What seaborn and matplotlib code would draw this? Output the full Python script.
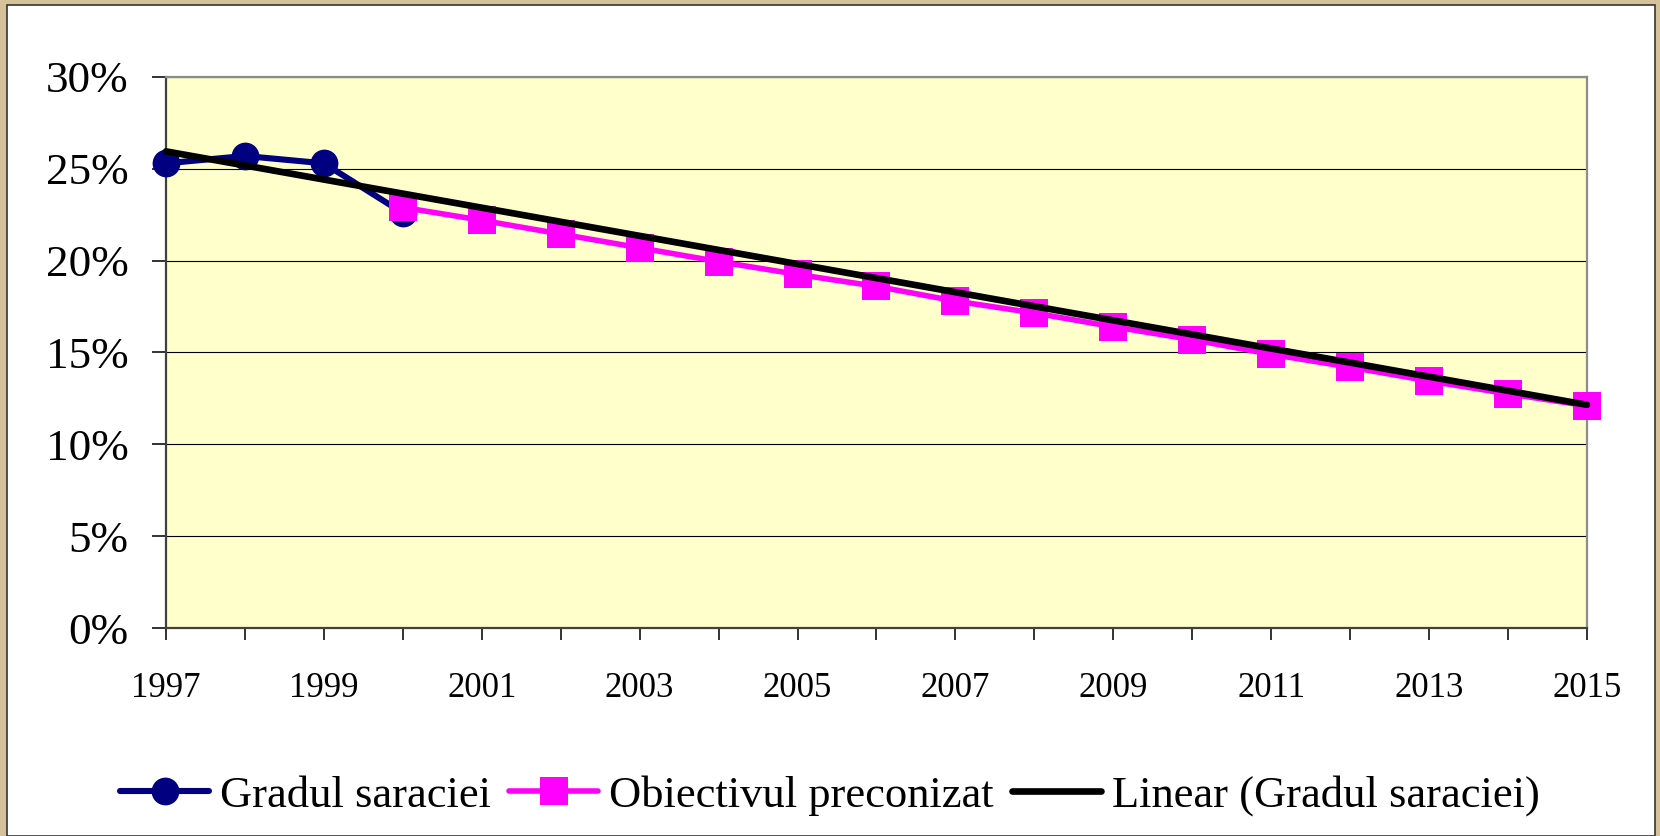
import numpy as np
import matplotlib
matplotlib.use("Agg")
import matplotlib.pyplot as plt
import seaborn as sns
from matplotlib.patches import Rectangle
from matplotlib.ticker import FuncFormatter, MultipleLocator

# Daten
ani_gradul = [1997, 1998, 1999, 2000]
gradul_saraciei = [25.3, 25.7, 25.3, 22.6]

ani_obiectiv = list(range(2000, 2016))
obiectiv_preconizat = [22.9, 22.2, 21.45, 20.7, 19.95, 19.25, 18.6, 17.8,
                       17.15, 16.4, 15.7, 14.9, 14.2, 13.45, 12.75, 12.1]

ani_trend = [1997, 2015]
trend_linear = [25.95, 12.15]

etichete = ["Gradul saraciei", "Obiectivul preconizat", "Linear (Gradul saraciei)"]
ani_etichete = list(range(1997, 2016, 2))

sns.set_style("white")
plt.rcParams['font.family'] = ['Liberation Serif', 'DejaVu Serif']
plt.rcParams['text.color'] = 'black'

fig = plt.figure(figsize=(16.6, 8.36), dpi=100)
fig.patch.set_facecolor('#D6C29A')
# weisser Rahmen innerhalb des Pergament-Randes
fig.patches.append(Rectangle((7 / 1660, 0), 1648 / 1660, 1 - 5 / 836,
                             transform=fig.transFigure, facecolor='white',
                             edgecolor='#333333', linewidth=1.2, zorder=-5))

ax = fig.add_axes([0.1, 0.2488, 0.856, 0.6591])
ax.set_facecolor('#FFFFCC')

sns.lineplot(x=ani_gradul, y=gradul_saraciei, ax=ax, color='#000080',
             linewidth=4.4, marker='o', markersize=20, markeredgewidth=0,
             label=etichete[0], clip_on=False, zorder=3)
sns.lineplot(x=ani_obiectiv, y=obiectiv_preconizat, ax=ax, color='#FF00FF',
             linewidth=4.0, marker='s', markersize=19.5, markeredgewidth=0,
             label=etichete[1], clip_on=False, zorder=4)
sns.lineplot(x=ani_trend, y=trend_linear, ax=ax, color='black',
             linewidth=4.8, label=etichete[2], clip_on=False, zorder=5,
             solid_capstyle='round')

ax.set_xlim(1997, 2015)
ax.set_ylim(0, 30)
ax.yaxis.set_major_locator(MultipleLocator(5))
ax.yaxis.set_major_formatter(FuncFormatter(lambda v, p: f"{v:.0f}%"))
ax.set_xticks(list(range(1997, 2016)))
ax.set_xticklabels([str(a) if a in ani_etichete else "" for a in range(1997, 2016)])

ax.yaxis.grid(True, color='black', linewidth=0.8)
ax.xaxis.grid(False)
ax.set_axisbelow(True)

ax.tick_params(axis='y', which='major', direction='out', length=10, width=1.3,
               color='#222222', labelcolor='black', pad=17, labelsize=32.5, left=True)
ax.tick_params(axis='x', which='major', direction='out', length=8.5, width=1.3,
               color='#222222', labelcolor='black', pad=23, labelsize=25, bottom=True)

for s in ['left', 'bottom']:
    ax.spines[s].set_color('#404040')
    ax.spines[s].set_linewidth(1.6)
for s in ['top', 'right']:
    ax.spines[s].set_color('#8C8C8C')
    ax.spines[s].set_linewidth(1.6)

ax.set_xlabel("")
ax.set_ylabel("")

leg = ax.legend(loc='center', bbox_to_anchor=(0.5, 40 / 836), bbox_transform=fig.transFigure,
                ncol=3, frameon=False, fontsize=32, handlelength=2.0,
                handletextpad=0.25, columnspacing=0.4, borderaxespad=0)
for t in leg.get_texts():
    t.set_color('black')

fig.savefig("out.png", dpi=100, facecolor=fig.get_facecolor())
